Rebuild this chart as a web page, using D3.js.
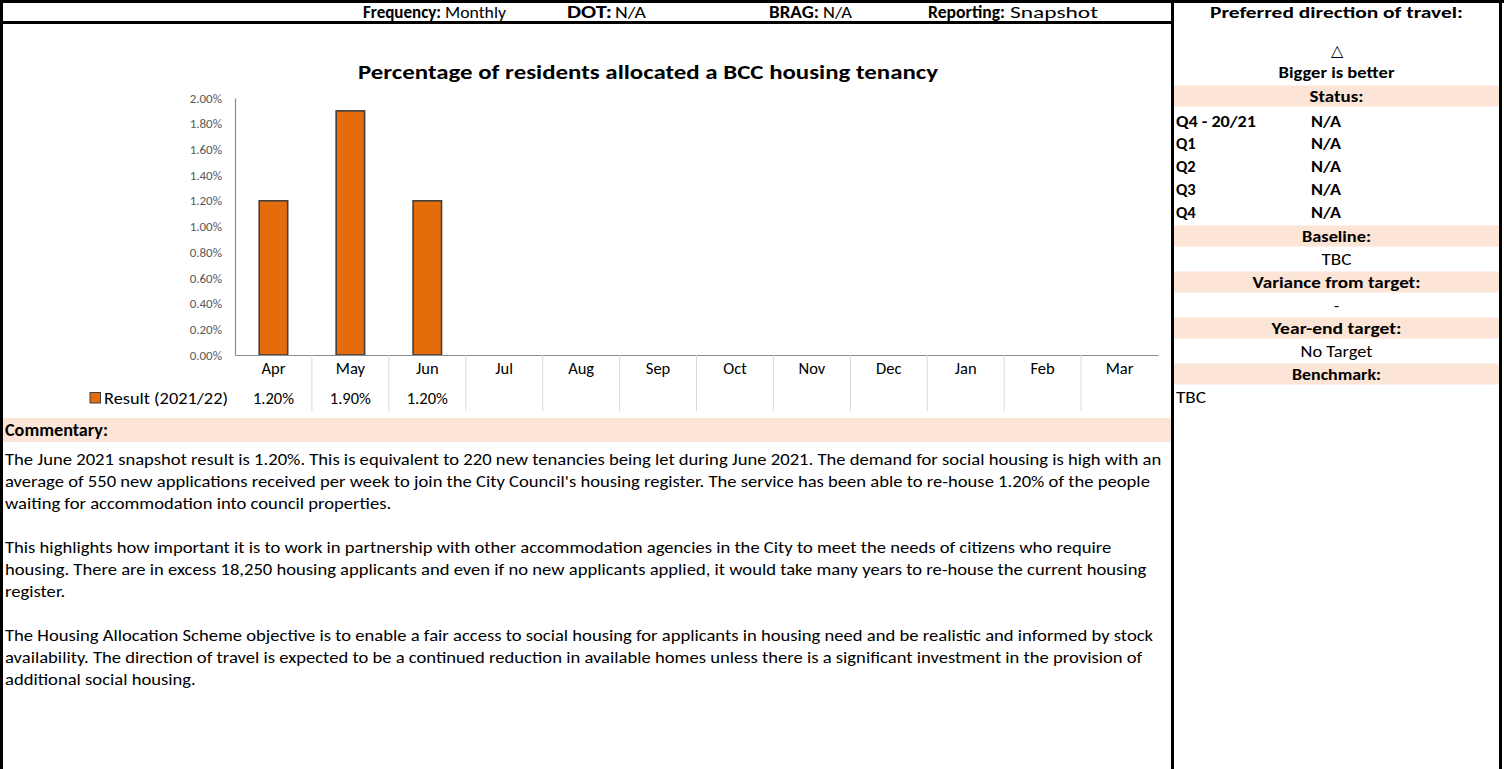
<!DOCTYPE html>
<html><head><meta charset="utf-8">
<script src="https://cdn.jsdelivr.net/npm/d3@7"></script>
<style>
body{margin:0;background:#fff}
svg{display:block}
text{font-family:Carlito,Calibri,Lato,"Open Sans",sans-serif}
</style></head>
<body><svg id="c" width="1504" height="769"></svg>
<script>
// ---------- data ----------
const months = ["Apr","May","Jun","Jul","Aug","Sep","Oct","Nov","Dec","Jan","Feb","Mar"];
const results = [0.012, 0.019, 0.012, null, null, null, null, null, null, null, null, null];
const seriesName = "Result (2021/22)";
const yTicks = [0, 0.002, 0.004, 0.006, 0.008, 0.010, 0.012, 0.014, 0.016, 0.018, 0.020];
const chartTitle = "Percentage of residents allocated a BCC housing tenancy";
const headerLabels = ["Frequency:", "DOT:", "BRAG:", "Reporting:"];
const headerValues = ["Monthly", "N/A", "N/A", "Snapshot"];
const statusLabels = ["Q4 - 20/21", "Q1", "Q2", "Q3", "Q4"];
const statusValues = ["N/A", "N/A", "N/A", "N/A", "N/A"];
const commentaryParas = [
  ["The June 2021 snapshot result is 1.20%. This is equivalent to 220 new tenancies being let during June 2021. The demand for social housing is high with an",
   "average of 550 new applications received per week to join the City Council's housing register. The service has been able to re-house 1.20% of the people",
   "waiting for accommodation into council properties."],
  ["This highlights how important it is to work in partnership with other accommodation agencies in the City to meet the needs of citizens who require",
   "housing. There are in excess 18,250 housing applicants and even if no new applicants applied, it would take many years to re-house the current housing",
   "register."],
  ["The Housing Allocation Scheme objective is to enable a fair access to social housing for applicants in housing need and be realistic and informed by stock",
   "availability. The direction of travel is expected to be a continued reduction in available homes unless there is a significant investment in the provision of",
   "additional social housing."]
];

// ---------- helpers ----------
const svg = d3.select("#c");
const PEACH = "#FCE4D6", ORANGE = "#E46C0A", OUTLINE = "#404040";
const FS = 16.5;
function fit(sel, w){
  const n = sel.node(); const cur = n.getComputedTextLength();
  if (Math.abs(cur - w) > 1) sel.attr("textLength", w).attr("lengthAdjust", "spacingAndGlyphs");
  return sel;
}

// ---------- header row ----------
const hdrLabelX = [363, 567, 769, 928], hdrLabelW = [78, 45, 50, 77];
const hdrValX = [445, 615, 823, 1010], hdrValW = [61, 31, 29, 88];
headerLabels.forEach((l, i) => {
  fit(svg.append("text").attr("x", hdrLabelX[i]).attr("y", 12).attr("dy", "0.35em")
    .attr("font-size", 17).attr("font-weight", "bold").text(l), hdrLabelW[i]);
  fit(svg.append("text").attr("x", hdrValX[i]).attr("y", 12).attr("dy", "0.35em")
    .attr("font-size", 17).text(headerValues[i]), hdrValW[i]);
});

// ---------- chart ----------
fit(svg.append("text").attr("x", 648).attr("y", 72).attr("dy", "0.35em").attr("text-anchor", "middle")
  .attr("font-size", 21).attr("font-weight", "bold").text(chartTitle), 580);

const x = d3.scaleBand().domain(months).range([235, 1158]);
const y = d3.scaleLinear().domain([0, 0.02]).range([355, 98]);

const yAxis = svg.append("g").attr("transform", "translate(235,0)")
  .call(d3.axisLeft(y).tickValues(yTicks).tickFormat(d3.format(".2%")).tickSize(0).tickPadding(13));
yAxis.select(".domain").attr("stroke", "#8c8c8c").attr("stroke-width", 1.2);
yAxis.selectAll("text").attr("font-size", 13).attr("fill", "#595959").attr("font-family", "Carlito,Calibri,Lato,sans-serif");

const bw = x.bandwidth() * 0.37;
svg.append("g").selectAll("rect").data(months.map((m, i) => ({m, v: results[i]})).filter(d => d.v != null))
  .join("rect")
  .attr("x", d => x(d.m) + x.bandwidth() / 2 - bw / 2)
  .attr("y", d => y(d.v))
  .attr("width", bw)
  .attr("height", d => y(0) - y(d.v))
  .attr("fill", ORANGE).attr("stroke", OUTLINE).attr("stroke-width", 1.6);

const xAxis = svg.append("g").attr("transform", "translate(0,355)")
  .call(d3.axisBottom(x).tickSize(0).tickPadding(7));
xAxis.select(".domain").attr("stroke", "#8c8c8c").attr("stroke-width", 1.2);
xAxis.selectAll("text").attr("font-size", FS).attr("fill", "#000").attr("font-family", "Carlito,Calibri,Lato,sans-serif");

// data table gridlines
svg.append("g").selectAll("line").data(months.slice(0, -1)).join("line")
  .attr("x1", d => x(d) + x.bandwidth()).attr("x2", d => x(d) + x.bandwidth())
  .attr("y1", 355).attr("y2", 411).attr("stroke", "#d9d9d9").attr("stroke-width", 1);

// legend key + row
svg.append("rect").attr("x", 90).attr("y", 392.5).attr("width", 10.5).attr("height", 10.5)
  .attr("fill", ORANGE).attr("stroke", OUTLINE).attr("stroke-width", 1);
fit(svg.append("text").attr("x", 104).attr("y", 398).attr("dy", "0.35em").attr("font-size", FS).text(seriesName), 124);
svg.append("g").selectAll("text").data(months.map((m, i) => ({m, v: results[i]})).filter(d => d.v != null))
  .join("text")
  .attr("x", d => x(d.m) + x.bandwidth() / 2).attr("y", 398).attr("dy", "0.35em")
  .attr("text-anchor", "middle").attr("font-size", FS)
  .text(d => d3.format(".2%")(d.v));

// ---------- commentary ----------
svg.append("rect").attr("x", 3).attr("y", 418).attr("width", 1169).attr("height", 24).attr("fill", PEACH);
fit(svg.append("text").attr("x", 5).attr("y", 430).attr("dy", "0.35em").attr("font-size", 18)
  .attr("font-weight", "bold").text("Commentary:"), 103);

const cg = svg.append("g");
let cy = 459;
commentaryParas.forEach(p => {
  p.forEach(line => {
    cg.append("text").attr("x", 0).attr("y", cy).attr("dy", "0.35em").attr("font-size", FS).text(line);
    cy += 22;
  });
  cy += 22;
});
const firstW = cg.select("text").node().getComputedTextLength();
const k = 1157 / firstW;
cg.attr("transform", `translate(5,0) scale(${k},1)`);

// ---------- right panel ----------
const RX0 = 1174, RX1 = 1499, RC = (RX0 + RX1) / 2;
const bandRows = [
  {y: 96, t: "Status:", w: 54},
  {y: 236, t: "Baseline:", w: 69},
  {y: 282, t: "Variance from target:", w: 168},
  {y: 328, t: "Year-end target:", w: 130},
  {y: 374, t: "Benchmark:", w: 89}
];
bandRows.forEach(b => {
  svg.append("rect").attr("x", RX0).attr("y", b.y - 10.5).attr("width", RX1 - RX0).attr("height", 21).attr("fill", PEACH);
  fit(svg.append("text").attr("x", RC).attr("y", b.y).attr("dy", "0.35em").attr("text-anchor", "middle")
    .attr("font-size", 16.5).attr("font-weight", "bold").text(b.t), b.w);
});
fit(svg.append("text").attr("x", RC).attr("y", 12).attr("dy", "0.35em").attr("text-anchor", "middle")
  .attr("font-size", 16.5).attr("font-weight", "bold").text("Preferred direction of travel:"), 253);
svg.append("text").attr("x", RC).attr("y", 50).attr("dy", "0.35em").attr("text-anchor", "middle")
  .attr("font-size", 16).attr("font-family", "DejaVu Sans").text("\u25B3");
fit(svg.append("text").attr("x", RC).attr("y", 72).attr("dy", "0.35em").attr("text-anchor", "middle")
  .attr("font-size", 16.5).attr("font-weight", "bold").text("Bigger is better"), 116);

const statusY = [121, 143, 166, 189, 212];
statusLabels.forEach((l, i) => {
  fit(svg.append("text").attr("x", 1176).attr("y", statusY[i]).attr("dy", "0.35em")
    .attr("font-size", 16.5).attr("font-weight", "bold").text(l), i === 0 ? 80 : 20);
  fit(svg.append("text").attr("x", 1311).attr("y", statusY[i]).attr("dy", "0.35em")
    .attr("font-size", 16.5).attr("font-weight", "bold").text(statusValues[i]), 30);
});
fit(svg.append("text").attr("x", RC).attr("y", 259).attr("dy", "0.35em").attr("text-anchor", "middle").attr("font-size", FS).text("TBC"), 30);
svg.append("text").attr("x", RC).attr("y", 305).attr("dy", "0.35em").attr("text-anchor", "middle").attr("font-size", FS).text("-");
fit(svg.append("text").attr("x", RC).attr("y", 351).attr("dy", "0.35em").attr("text-anchor", "middle").attr("font-size", FS).text("No Target"), 72);
fit(svg.append("text").attr("x", 1176).attr("y", 397).attr("dy", "0.35em").attr("font-size", FS).text("TBC"), 30);

// ---------- borders ----------
const B = svg.append("g").attr("stroke", "#000").attr("stroke-width", 3);
B.append("line").attr("x1", 0).attr("x2", 1504).attr("y1", 1.5).attr("y2", 1.5);
B.append("line").attr("x1", 1.5).attr("x2", 1.5).attr("y1", 0).attr("y2", 769);
B.append("line").attr("x1", 1500.5).attr("x2", 1500.5).attr("y1", 0).attr("y2", 769);
B.append("line").attr("x1", 1172.5).attr("x2", 1172.5).attr("y1", 0).attr("y2", 769);
B.append("line").attr("x1", 0).attr("x2", 1172).attr("y1", 22.5).attr("y2", 22.5);
</script></body></html>
